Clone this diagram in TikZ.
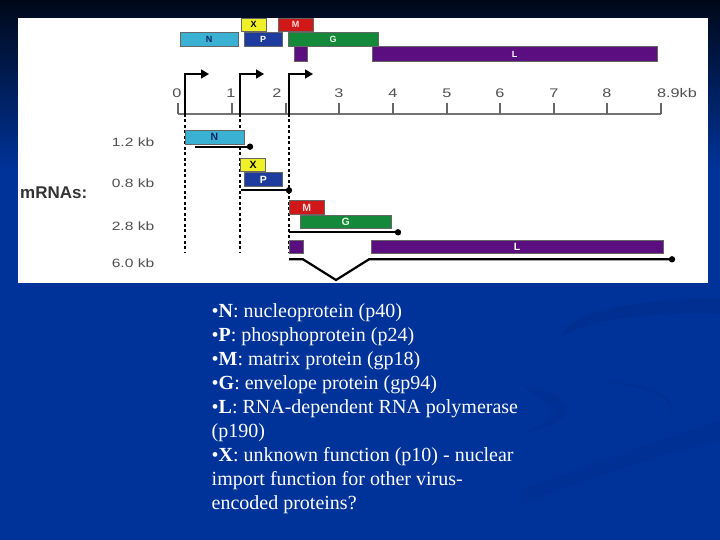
\documentclass[tikz,border=0pt]{standalone}
\usepackage{fontspec}
\setmainfont{Liberation Serif}
\setsansfont{Liberation Sans}
\newfontfamily\mapfont[FakeStretch=1.3]{Liberation Sans}
\usetikzlibrary{arrows.meta,positioning}

\definecolor{slideblue}{RGB}{0,51,153}
\definecolor{slidetop}{RGB}{0,8,24}
\definecolor{swoosh}{RGB}{0,38,128}
\definecolor{ncyan}{RGB}{58,176,210}
\definecolor{xyellow}{RGB}{240,240,40}
\definecolor{mred}{RGB}{208,24,24}
\definecolor{pblue}{RGB}{30,60,158}
\definecolor{ggreen}{RGB}{20,137,58}
\definecolor{lpurple}{RGB}{90,14,128}
\definecolor{labgray}{RGB}{80,80,80}

\tikzset{
  gene/.style={draw=black!60,line width=0.5pt,inner sep=0pt,outer sep=0pt,
    anchor=north west,font=\sffamily\bfseries\fontsize{9}{9}\selectfont},
  rowgene/.style={gene,font=\sffamily\bfseries\fontsize{10.5}{10.5}\selectfont},
  rna/.style={line width=2.2pt},
  scalelab/.style={font=\mapfont\fontsize{12.5}{12.5}\selectfont,text=labgray,inner sep=0pt},
  kblab/.style={font=\mapfont\fontsize{12}{12}\selectfont,text=labgray,inner sep=0pt},
  prom/.style={line width=1.4pt,-{Triangle[length=8pt,width=9pt]}},
  guide/.style={line width=1.1pt,dash pattern=on 3pt off 2.5pt},
}

\begin{document}
\begin{tikzpicture}[x=1pt,y=-1pt]
  \useasboundingbox(0,0)rectangle(720,540);
  \fill[slideblue](0,0)rectangle(720,540);
  \shade[top color=slidetop,bottom color=slideblue](0,0)rectangle(720,170);
  \fill[swoosh,opacity=0.25](720,298)..controls(640,298)and(565,312)..(562,336)
    ..controls(595,318)and(655,312)..(720,314)--cycle;
  \fill[swoosh,opacity=0.2](520,384)..controls(560,392)and(580,405)..(560,420)
    ..controls(550,428)and(530,432)..(520,434)..controls(545,425)and(560,415)..(545,402)--cycle;
  \fill[swoosh,opacity=0.2](600,382)..controls(660,380)and(690,405)..(660,425)
    ..controls(690,402)and(650,388)..cycle;
  \fill[swoosh,opacity=0.2](520,490)..controls(600,460)and(660,440)..(720,420)
    --(720,440)..controls(660,455)and(600,475)..(520,505)--cycle;
  \fill[white](18,18)rectangle(708,283);

  \node[gene,fill=xyellow,minimum width=25pt,minimum height=13pt](mapX)at(241,18){X};
  \node[gene,fill=mred,text=white!85!red,minimum width=35pt,minimum height=13pt](mapM)at(278,18){M};
  \node[gene,fill=ncyan,text=pblue!60!black,minimum width=58pt,minimum height=14pt](mapN)at(180,32){N};
  \node[gene,fill=pblue,text=white,minimum width=38pt,minimum height=14pt](mapP)at(244,32){P};
  \node[gene,fill=ggreen,text=green!10,minimum width=90pt,minimum height=14pt](mapG)at(288,32){G};
  \node[gene,fill=lpurple,minimum width=13pt,minimum height=15pt](mapLs)at(294,46.5){};
  \node[gene,fill=lpurple,text=white,minimum width=285pt,minimum height=15pt](mapL)at(372,46.5){L};

  \coordinate(ax0)at(178,114);
  \coordinate(ax9)at(661,114);
  \draw[line width=2pt,black!55](ax0)--(ax9);
  \foreach \x/\t/\dx in {178/0/-1,232/1/-1,286/2/-9,339/3/0,393/4/0,447/5/0,500/6/0,554/7/0,607/8/0}{
    \draw[line width=1.2pt,black!60](\x,114)--(\x,103);
    \node[scalelab](num\t)at(\x+\dx,93){\t};
  }
  \draw[line width=1.2pt,black!60](ax9)--++(0,-11);
  \node[scalelab](numend)at(677,93){8.9kb};

  \foreach \p/\x in {1/185,2/240,3/289}{
    \coordinate(pr\p)at(\x,114);
    \coordinate(gd\p)at(\x,253);
    \draw[prom](pr\p)--++(0,-40)--++(24,0);
    \draw[guide](pr\p)--(gd\p);
  }

  \node[font=\sffamily\bfseries\fontsize{17}{17}\selectfont,text=black!80,anchor=west,inner sep=0pt](mrnas)at(20,193){mRNAs:};
  \node[kblab](kb1)at(133,142.7){1.2 kb};
  \node[kblab](kb2)at(133,183){0.8 kb};
  \node[kblab](kb3)at(133,226){2.8 kb};
  \node[kblab](kb4)at(133,263.5){6.0 kb};

  \node[rowgene,fill=ncyan,text=pblue!60!black,minimum width=59pt,minimum height=14pt](rnaN)at(185,130){N};
  \coordinate(st1)at(195,146.7);
  \coordinate(en1)at(250,146.7);
  \draw[rna](st1)--(en1);
  \fill(en1)circle(3.2);

  \node[rowgene,fill=xyellow,minimum width=25pt,minimum height=12.5pt](rnaX)at(240.7,158.7){X};
  \node[rowgene,fill=pblue,text=white,minimum width=38.5pt,minimum height=13.5pt](rnaP)at(244,172.7){P};
  \coordinate(st2)at(240.7,190.3);
  \coordinate(en2)at(289,190.3);
  \draw[rna](st2)--(en2);
  \fill(en2)circle(3.2);

  \node[rowgene,fill=mred,text=white!85!red,minimum width=35pt,minimum height=13.5pt](rnaM)at(289.3,200.7){M};
  \node[rowgene,fill=ggreen,text=green!10,minimum width=91.5pt,minimum height=13.5pt](rnaG)at(300,215){G};
  \coordinate(st3)at(289,232.3);
  \coordinate(en3)at(398,232.3);
  \draw[rna](st3)--(en3);
  \fill(en3)circle(3.2);

  \node[rowgene,fill=lpurple,minimum width=14pt,minimum height=13pt](rnaLs)at(289.3,240.5){};
  \node[rowgene,fill=lpurple,text=white,minimum width=292pt,minimum height=13pt](rnaL)at(371,240.5){L};
  \coordinate(st4)at(289,259.3);
  \coordinate(sp1)at(303,259.3);
  \coordinate(sp2)at(336,280);
  \coordinate(sp3)at(369,259.3);
  \coordinate(en4)at(672,259.3);
  \draw[rna,line join=miter](st4)--(sp1)--(sp2)--(sp3)--(en4);
  \fill(en4)circle(3.2);

  \node[anchor=north west,inner sep=0pt,align=left,text=white,
    font=\fontsize{20}{24}\selectfont](notes)at(211.5,303){%
    •\textbf{N}: nucleoprotein (p40)\\
    •\textbf{P}: phosphoprotein (p24)\\
    •\textbf{M}: matrix protein (gp18)\\
    •\textbf{G}: envelope protein (gp94)\\
    •\textbf{L}: RNA-dependent RNA polymerase\\
    (p190)\\
    •\textbf{X}: unknown function (p10) - nuclear\\
    import function for other virus-\\
    encoded proteins?};
\end{tikzpicture}
\end{document}
